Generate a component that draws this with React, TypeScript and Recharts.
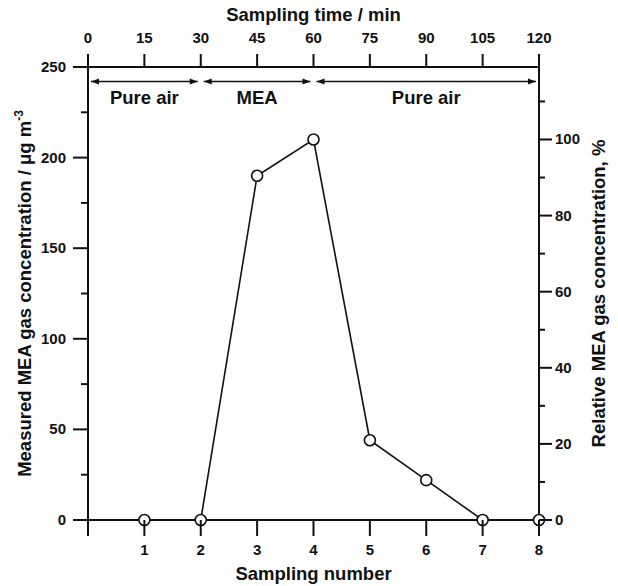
import { ComposedChart, Line, XAxis, YAxis, ReferenceLine, Label } from 'recharts';

const samplingNumbers = [1, 2, 3, 4, 5, 6, 7, 8];
const measuredConc = [0, 0, 190, 210, 44, 22, 0, 0];
const minutesPerSample = 15;
const peakConc = 210; // 100 % on the right axis

const bottomTicks = [0, 1, 2, 3, 4, 5, 6, 7, 8];
const topTicks = [0, 15, 30, 45, 60, 75, 90, 105, 120];
const leftTicks = [0, 25, 50, 75, 100, 125, 150, 175, 200, 225, 250];
const rightTicks = [0, 10, 20, 30, 40, 50, 60, 70, 80, 90, 100, 110];

const phases = [
    { label: 'Pure air', start: 0, end: 2 },
    { label: 'MEA', start: 2, end: 4 },
    { label: 'Pure air', start: 4, end: 8 },
];
const phaseLevel = 242;

const data = samplingNumbers.map((n, i) => ({
    n,
    time: n * minutesPerSample,
    conc: measuredConc[i],
}));

const FONT = '"Liberation Sans", Arial, sans-serif';
const INK = '#111';

const tickText = { fontFamily: FONT, fontSize: 15, fontWeight: 700, fill: INK };

function LeftTick({ x, y, payload }: any) {
    const major = payload.value % 50 === 0;
    const len = major ? 15 : 7;
    return (
        <g>
            <line x1={x} y1={y} x2={x - len} y2={y} stroke={INK} strokeWidth={2} />
            {major && <text x={x - 22} y={y + 5} textAnchor="end" style={tickText}>{payload.value}</text>}
        </g>
    );
}

function RightTick({ x, y, payload }: any) {
    const major = payload.value % 20 === 0;
    const len = major ? 13 : 6;
    return (
        <g>
            <line x1={x} y1={y} x2={x + len} y2={y} stroke={INK} strokeWidth={2} />
            {major && <text x={x + 16} y={y + 5} textAnchor="start" style={tickText}>{payload.value}</text>}
        </g>
    );
}

function BottomTick({ x, y, payload }: any) {
    return (
        <g>
            <line x1={x} y1={y} x2={x} y2={y + 16} stroke={INK} strokeWidth={2} />
            {payload.value !== 0 && <text x={x} y={y + 35} textAnchor="middle" style={tickText}>{payload.value}</text>}
        </g>
    );
}

function TopTick({ x, y, payload }: any) {
    return (
        <g>
            <line x1={x} y1={y} x2={x} y2={y - 13} stroke={INK} strokeWidth={2} />
            <text x={x} y={y - 24} textAnchor="middle" style={tickText}>{payload.value}</text>
        </g>
    );
}

const titleStyle = { fontFamily: FONT, fontSize: 18.5, fontWeight: 700, fill: INK };

function PhaseArrow(props: any) {
    const { x1, y1, x2, label } = props;
    const a = x1 + 3;
    const b = x2 - 3;
    const y = y1;
    return (
        <g>
            <line x1={a} y1={y} x2={b} y2={y} stroke={INK} strokeWidth={1.3} />
            <polygon points={`${a},${y} ${a + 8},${y - 3} ${a + 8},${y + 3}`} fill={INK} />
            <polygon points={`${b},${y} ${b - 8},${y - 3} ${b - 8},${y + 3}`} fill={INK} />
            <text x={(x1 + x2) / 2} y={y + 23} textAnchor="middle" style={titleStyle}>{label}</text>
        </g>
    );
}

export default function App() {
    return (
        <div style={{ position: 'absolute', left: 0, top: 0, width: 618, height: 586, background: '#fff' }}>
            <ComposedChart width={618} height={586} data={data} margin={{ top: 0, right: 0, bottom: 0, left: 0 }}>
                <XAxis xAxisId="num" dataKey="n" type="number" domain={[0, 8]} ticks={bottomTicks}
                    orientation="bottom" height={66} tickLine={false} tickSize={0} tickMargin={0}
                    axisLine={{ stroke: INK, strokeWidth: 2 }} tick={<BottomTick />} interval={0}>
                    <Label content={({ viewBox }: any) => (
                        <text x={viewBox.x + viewBox.width / 2} y={viewBox.y + 60} textAnchor="middle" style={titleStyle}>
                            Sampling number
                        </text>
                    )} />
                </XAxis>
                <XAxis xAxisId="time" dataKey="time" type="number" domain={[0, 120]} ticks={topTicks}
                    orientation="top" height={67} tickLine={false} tickSize={0} tickMargin={0}
                    axisLine={{ stroke: INK, strokeWidth: 2 }} tick={<TopTick />} interval={0}>
                    <Label content={({ viewBox }: any) => (
                        <text x={viewBox.x + viewBox.width / 2} y={viewBox.y + 21} textAnchor="middle" style={titleStyle}>
                            Sampling time / min
                        </text>
                    )} />
                </XAxis>
                <YAxis yAxisId="conc" type="number" domain={[0, 250]} ticks={leftTicks} width={88}
                    orientation="left" tickLine={false} tickSize={0} tickMargin={0}
                    axisLine={{ stroke: INK, strokeWidth: 2 }} tick={<LeftTick />} interval={0}>
                    <Label content={({ viewBox }: any) => {
                        const cx = viewBox.x + 31;
                        const cy = viewBox.y + viewBox.height / 2;
                        return (
                            <text x={cx} y={cy} textAnchor="middle" transform={`rotate(-90 ${cx} ${cy})`} style={titleStyle}>
                                Measured MEA gas concentration / μg m<tspan dy={-8} fontSize={12}>-3</tspan>
                            </text>
                        );
                    }} />
                </YAxis>
                <YAxis yAxisId="rel" type="number" domain={[0, (250 / peakConc) * 100]} ticks={rightTicks} width={79}
                    orientation="right" tickLine={false} tickSize={0} tickMargin={0} allowDataOverflow
                    axisLine={{ stroke: INK, strokeWidth: 2 }} tick={<RightTick />} interval={0}>
                    <Label content={({ viewBox }: any) => {
                        const cx = viewBox.x + 66;
                        const cy = viewBox.y + viewBox.height / 2;
                        return (
                            <text x={cx} y={cy} textAnchor="middle" transform={`rotate(-90 ${cx} ${cy})`} style={titleStyle}>
                                Relative MEA gas concentration, %
                            </text>
                        );
                    }} />
                </YAxis>
                {phases.map((p, i) => (
                    <ReferenceLine key={i} xAxisId="num" yAxisId="conc"
                        segment={[{ x: p.start, y: phaseLevel }, { x: p.end, y: phaseLevel }]}
                        shape={(props: any) => <PhaseArrow {...props} label={p.label} />} />
                ))}
                <Line xAxisId="num" yAxisId="conc" dataKey="conc" type="linear" stroke={INK} strokeWidth={1.6}
                    isAnimationActive={false}
                    dot={{ r: 5.5, fill: '#fff', stroke: INK, strokeWidth: 1.6 }} />
            </ComposedChart>
        </div>
    );
}
